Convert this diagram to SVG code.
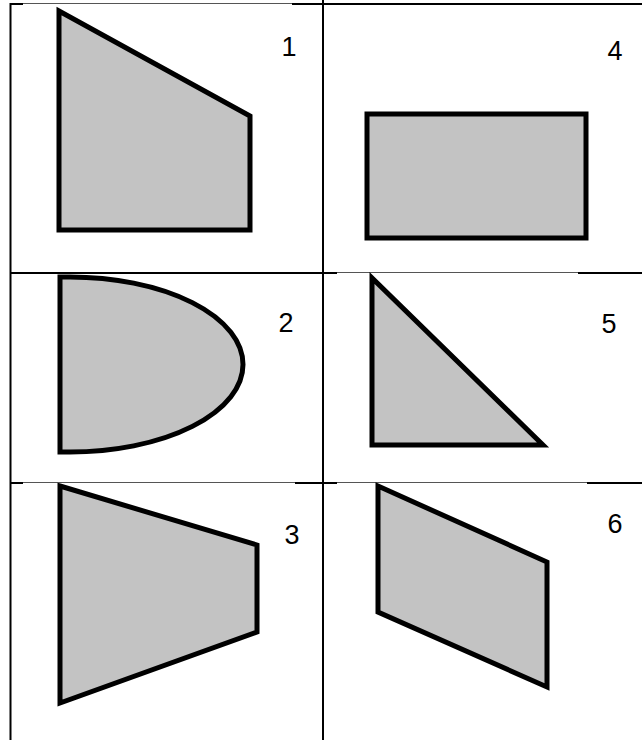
<svg xmlns="http://www.w3.org/2000/svg" width="642" height="740" viewBox="0 0 642 740">
<style>
.grid{stroke:#000;stroke-width:2;fill:none}
.thin{stroke:#555;stroke-width:1;fill:none}
.shape{fill:#c3c3c3;stroke:#000;stroke-width:5;stroke-linejoin:miter}
.lbl{font-family:"Liberation Sans",Arial,sans-serif;font-size:27px;fill:#000;text-anchor:middle}
</style>
<rect width="642" height="740" fill="#fff"/>
<g id="grid">
<line class="grid" x1="10.5" y1="3" x2="10.5" y2="740"/>
<line class="grid" x1="323" y1="0" x2="323" y2="740"/>
<line class="grid" x1="10" y1="4" x2="23" y2="4"/>
<line class="thin" x1="23" y1="3.5" x2="292" y2="3.5"/>
<line class="grid" x1="292" y1="4" x2="642" y2="4"/>
<line class="grid" x1="10" y1="273" x2="337" y2="273"/>
<line class="thin" x1="337" y1="272.5" x2="578" y2="272.5"/>
<line class="grid" x1="578" y1="273" x2="642" y2="273"/>
<line class="grid" x1="10" y1="483" x2="23" y2="483"/>
<line class="thin" x1="23" y1="482.5" x2="295" y2="482.5"/>
<line class="grid" x1="295" y1="483" x2="337" y2="483"/>
<line class="thin" x1="337" y1="482.5" x2="587" y2="482.5"/>
<line class="grid" x1="587" y1="483" x2="642" y2="483"/>
</g>
<g id="node1">
<polygon class="shape" points="59,11 250,116 250,230 59,230"/>
<text class="lbl" x="289" y="56">1</text>
</g>
<g id="node4">
<rect class="shape" x="367" y="114" width="219" height="124"/>
<text class="lbl" x="615" y="60">4</text>
</g>
<g id="node2">
<path class="shape" stroke-width="4.5" d="M60,277 L70,277 A173,87.5 0 0 1 70,452 L60,452 Z"/>
<text class="lbl" x="286" y="332">2</text>
</g>
<g id="node5">
<polygon class="shape" stroke-width="4" points="372,278 372,445 543,445"/>
<text class="lbl" x="609" y="333">5</text>
</g>
<g id="node3">
<polygon class="shape" points="60,486 257,545 257,632 60,703"/>
<text class="lbl" x="292" y="544">3</text>
</g>
<g id="node6">
<polygon class="shape" stroke-width="4" points="378,486 547,562 547,687 378,612"/>
<text class="lbl" x="615" y="533">6</text>
</g>
</svg>
